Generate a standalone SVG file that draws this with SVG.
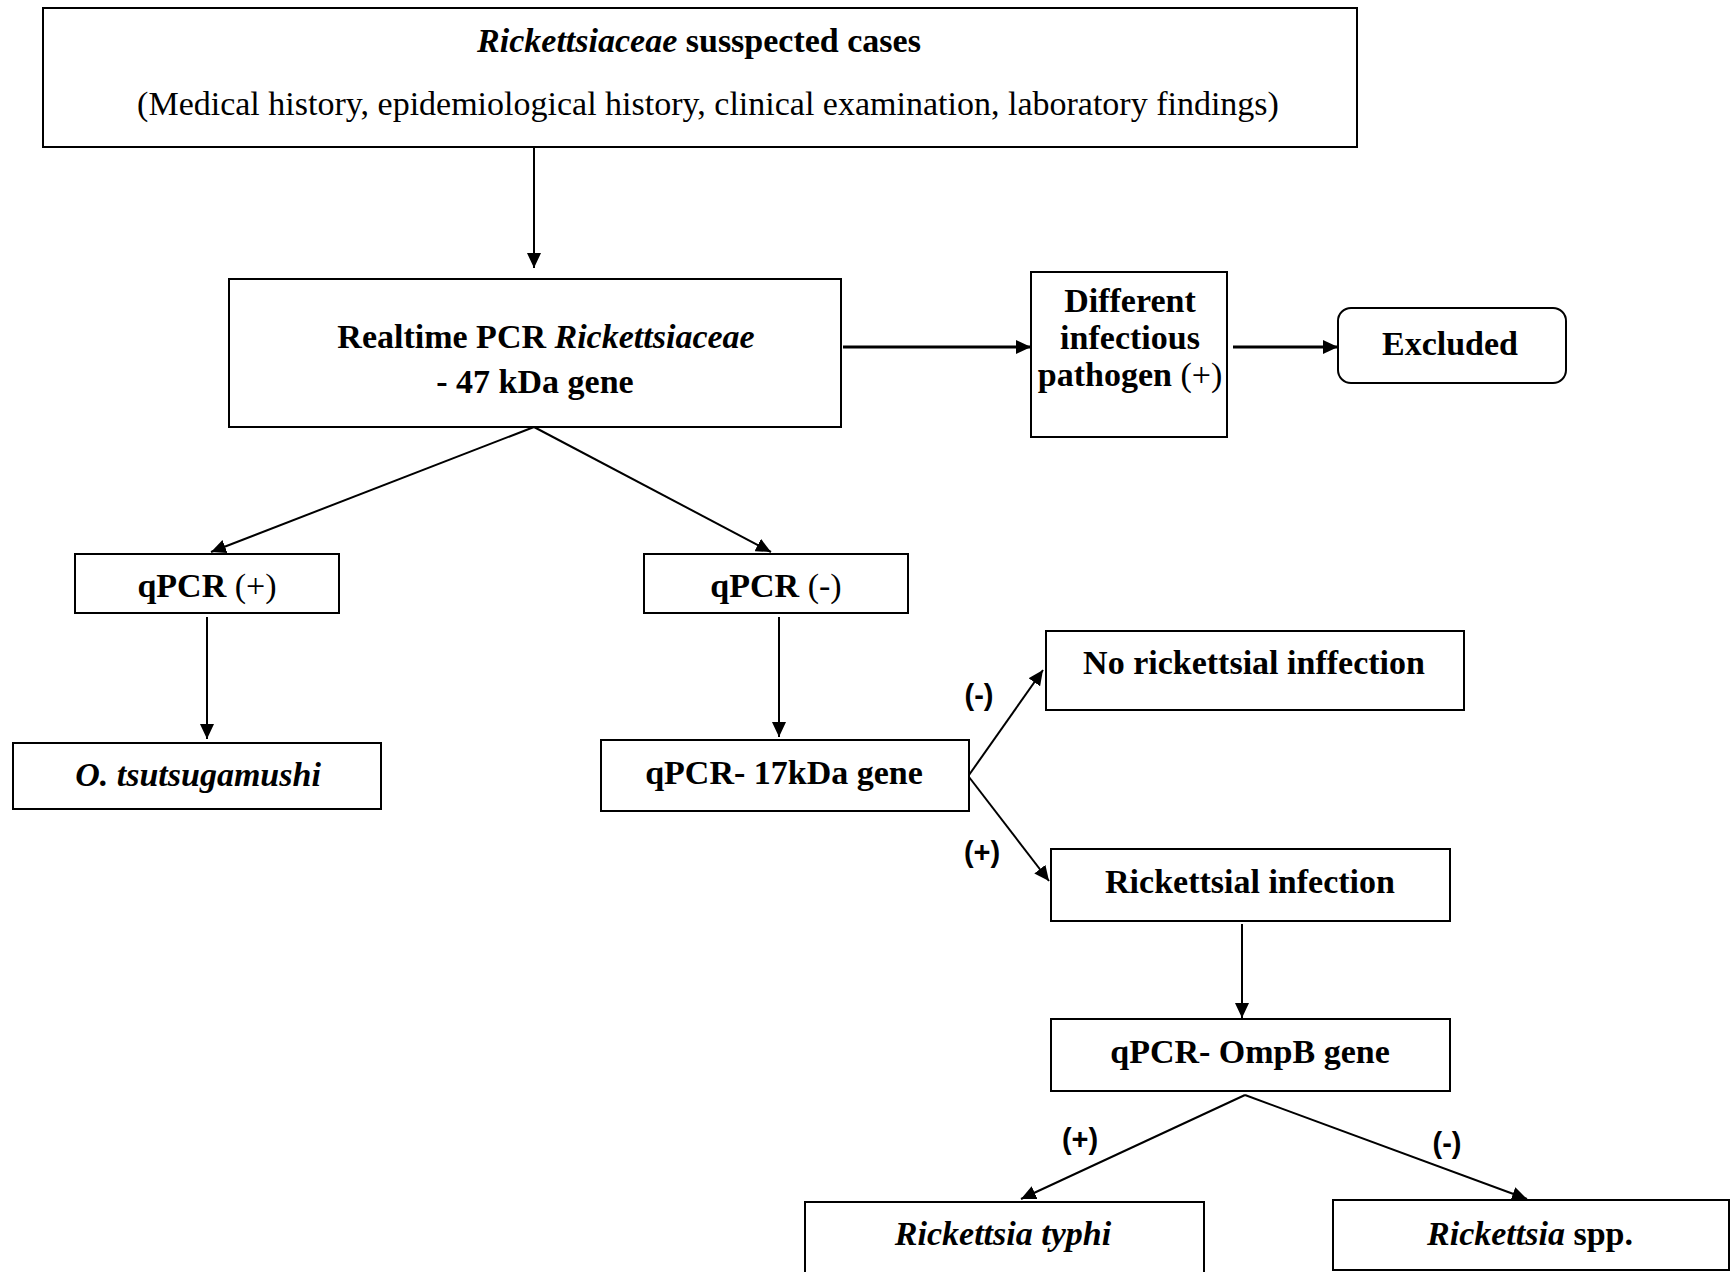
<svg xmlns="http://www.w3.org/2000/svg" width="1731" height="1272" viewBox="0 0 1731 1272">
<style>
.box{fill:#fff;stroke:#000;stroke-width:2}
.t{font-family:"Liberation Serif","Times New Roman",serif;font-size:34px;font-weight:bold;fill:#000;text-anchor:middle}
.r{font-weight:normal}
.i{font-style:italic}
.lbl{font-family:"Liberation Sans",Arial,sans-serif;font-size:29px;font-weight:bold;fill:#000;text-anchor:middle}
.c{fill:none;stroke:#000;stroke-width:2}
.ch{fill:none;stroke:#000;stroke-width:3}
</style>
<defs>
<marker id="ah" markerUnits="userSpaceOnUse" markerWidth="16" markerHeight="14" refX="15" refY="7" orient="auto">
<path d="M0,0 L15,7 L0,14 Z" fill="#000"/>
</marker>
</defs>
<rect width="1731" height="1272" fill="#fff"/>
<g id="connectors">
<line class="c" x1="534" y1="147" x2="534" y2="268" marker-end="url(#ah)"/>
<line class="ch" x1="843" y1="347" x2="1031" y2="347" marker-end="url(#ah)"/>
<line class="ch" x1="1233" y1="347" x2="1338" y2="347" marker-end="url(#ah)"/>
<line class="c" x1="534" y1="427" x2="211" y2="552" marker-end="url(#ah)"/>
<line class="c" x1="534" y1="427" x2="771" y2="552" marker-end="url(#ah)"/>
<line class="c" x1="207" y1="617" x2="207" y2="739" marker-end="url(#ah)"/>
<line class="c" x1="779" y1="617" x2="779" y2="737" marker-end="url(#ah)"/>
<line class="c" x1="969" y1="775" x2="1043" y2="670" marker-end="url(#ah)"/>
<line class="c" x1="969" y1="777" x2="1049" y2="881" marker-end="url(#ah)"/>
<line class="c" x1="1242" y1="924" x2="1242" y2="1018" marker-end="url(#ah)"/>
<line class="c" x1="1245" y1="1095" x2="1021" y2="1199" marker-end="url(#ah)"/>
<line class="c" x1="1245" y1="1095" x2="1527" y2="1199" marker-end="url(#ah)"/>
<text class="lbl" x="979" y="705">(-)</text>
<text class="lbl" x="982" y="862">(+)</text>
<text class="lbl" x="1080" y="1149">(+)</text>
<text class="lbl" x="1447" y="1153">(-)</text>
</g>
<g id="suspected">
<rect class="box" x="43" y="8" width="1314" height="139"/>
<text class="t" x="699" y="52"><tspan class="i">Rickettsiaceae</tspan> susspected cases</text>
<text class="t r" x="708" y="115">(Medical history, epidemiological history, clinical examination, laboratory findings)</text>
</g>
<g id="pcr47">
<rect class="box" x="229" y="279" width="612" height="148"/>
<text class="t" x="546" y="348">Realtime PCR <tspan class="i">Rickettsiaceae</tspan></text>
<text class="t" x="535" y="393">- 47 kDa gene</text>
</g>
<g id="different">
<rect class="box" x="1031" y="272" width="196" height="165"/>
<text class="t" x="1130" y="312">Different</text>
<text class="t" x="1130" y="349">infectious</text>
<text class="t" x="1130" y="386">pathogen <tspan class="r">(+)</tspan></text>
</g>
<g id="excluded">
<rect class="box" x="1338" y="308" width="228" height="75" rx="13" ry="13"/>
<text class="t" x="1450" y="355">Excluded</text>
</g>
<g id="qpcrpos">
<rect class="box" x="75" y="554" width="264" height="59"/>
<text class="t" x="207" y="597">qPCR <tspan class="r">(+)</tspan></text>
</g>
<g id="qpcrneg">
<rect class="box" x="644" y="554" width="264" height="59"/>
<text class="t" x="776" y="597">qPCR <tspan class="r">(-)</tspan></text>
</g>
<g id="otsu">
<rect class="box" x="13" y="743" width="368" height="66"/>
<text class="t i" x="198" y="786">O. tsutsugamushi</text>
</g>
<g id="pcr17">
<rect class="box" x="601" y="740" width="368" height="71"/>
<text class="t" x="784" y="784">qPCR- 17kDa gene</text>
</g>
<g id="norick">
<rect class="box" x="1046" y="631" width="418" height="79"/>
<text class="t" x="1254" y="674">No rickettsial inffection</text>
</g>
<g id="rick">
<rect class="box" x="1051" y="849" width="399" height="72"/>
<text class="t" x="1250" y="893">Rickettsial infection</text>
</g>
<g id="ompb">
<rect class="box" x="1051" y="1019" width="399" height="72"/>
<text class="t" x="1250" y="1063">qPCR- OmpB gene</text>
</g>
<g id="typhi">
<rect class="box" x="805" y="1202" width="399" height="90"/>
<text class="t i" x="1003" y="1245">Rickettsia typhi</text>
</g>
<g id="spp">
<rect class="box" x="1333" y="1200" width="396" height="70"/>
<text class="t" x="1530" y="1245"><tspan class="i">Rickettsia</tspan> spp.</text>
</g>
</svg>
